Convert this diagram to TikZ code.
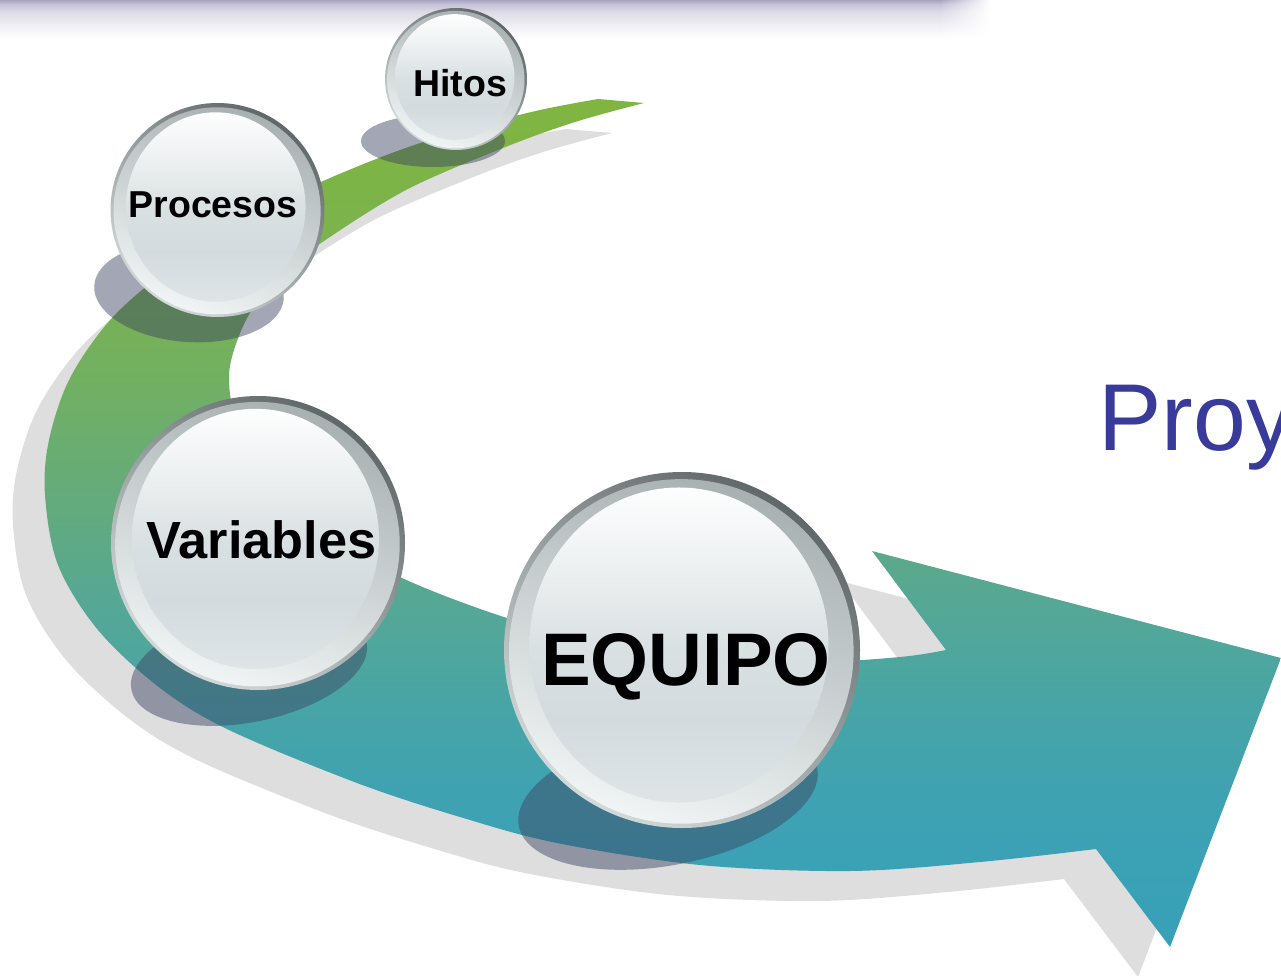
\documentclass[tikz,border=0pt]{standalone}
\usepackage{fontspec}
\setmainfont{Liberation Sans}
\usetikzlibrary{fadings}
\definecolor{ag0}{RGB}{55,160,184}
\definecolor{ag1}{RGB}{62,162,178}
\definecolor{ag2}{RGB}{72,165,165}
\definecolor{ag3}{RGB}{86,168,148}
\definecolor{ag4}{RGB}{100,171,124}
\definecolor{ag5}{RGB}{112,175,102}
\definecolor{ag6}{RGB}{121,178,82}
\definecolor{ag7}{RGB}{128,181,64}
\definecolor{arrowshadowc}{RGB}{222,222,222}
\definecolor{ballshadowc}{RGB}{59,68,98}
\definecolor{rimA}{RGB}{95,103,105}
\definecolor{rimB}{RGB}{210,218,218}
\definecolor{bevA}{RGB}{168,176,178}
\definecolor{bevB}{RGB}{240,244,244}
\definecolor{fcB}{RGB}{223,229,231}
\definecolor{fcM}{RGB}{211,219,222}
\definecolor{fcM2}{RGB}{217,224,226}
\definecolor{fcU}{RGB}{238,241,242}
\definecolor{fcT}{RGB}{253,254,254}
\definecolor{barA}{RGB}{168,164,192}
\definecolor{barB}{RGB}{196,193,214}
\definecolor{barC}{RGB}{220,218,230}
\definecolor{barD}{RGB}{236,235,242}
\definecolor{proyc}{RGB}{56,59,154}
\pgfdeclareverticalshading{arrowgrad}{100bp}{color(0bp)=(ag0); color(25bp)=(ag0); color(33.7bp)=(ag1); color(39.6bp)=(ag2); color(45.5bp)=(ag3); color(51.4bp)=(ag4); color(57.3bp)=(ag5); color(63.2bp)=(ag6); color(75bp)=(ag7); color(100bp)=(ag7)}
\pgfdeclareverticalshading{ballface}{100bp}{color(0bp)=(fcB); color(25bp)=(fcB); color(38bp)=(fcM); color(49bp)=(fcM2); color(63bp)=(fcU); color(75bp)=(fcT); color(100bp)=(fcT)}
\pgfdeclareverticalshading{bargrad}{100bp}{color(0bp)=(white); color(25bp)=(white); color(45bp)=(barD); color(60bp)=(barC); color(70bp)=(barB); color(75bp)=(barA); color(100bp)=(barA)}
\newcommand\arrowpath{plot[smooth, tension=0.55] coordinates {(598,99) (540,110) (470,128) (400,150) (321,182) (240,222) (170,268) (112,318) (70,378) (49,440) (45,495) (58,565) (98,630) (160,688) (229,730) (357,783) (460,817) (557,843) (700,865) (850,871) (980,862) (1096,849)} -- (1170,947) -- (1281,658) -- (872,551) -- (946,650) -- plot[smooth, tension=0.55] coordinates {(946,650) (900,657) (800,663) (700,657) (600,641) (507,618) (400,577) (318,528) (264,470) (236,420) (229,380) (234,350) (250,313) (280,275) (321,243) (406,190) (503,148) (575,122) (644,103)} -- cycle}
\newcommand\glassball[3]{%
  \begin{scope}[shift={(#1,#2)}, scale=#3]
    \shade[shading=axis, top color=rimA, bottom color=rimB, shading angle=-35] (0,0) circle [radius=1];
    \shade[shading=axis, top color=bevA, bottom color=bevB, shading angle=-20] (-0.004,0.008) circle [radius=0.968];
    \shade[shading=ballface] (-0.017,-0.028) ellipse [x radius=0.84, y radius=0.885];
  \end{scope}}
\tikzset{
  ballshadow/.style={fill=ballshadowc, fill opacity=0.47},
  balltext/.style={anchor=base, inner sep=0pt, text=black},
}
\begin{document}
\begin{tikzpicture}[x=1pt, y=-1pt]
\useasboundingbox (0,0) rectangle (1281,976);
\clip (0,0) rectangle (1281,976);
% top bar
\shade[shading=bargrad] (0,0) rectangle (942,38);
\shade[shading=bargrad, path fading=east] (940,0) rectangle (990,38);
% arrow shadow and arrow
\fill[arrowshadowc, shift={(-32,30)}] \arrowpath;
\shade[shading=arrowgrad] \arrowpath;
% sphere shadows
\fill[ballshadow] (433,141) ellipse [x radius=72, y radius=26];
\fill[ballshadow, rotate around={-4:(189,292)}] (189,292) ellipse [x radius=95, y radius=50];
\fill[ballshadow, rotate around={11.5:(249,666)}] (249,666) ellipse [x radius=120, y radius=56];
\fill[ballshadow, rotate around={11:(668,797)}] (668,797) ellipse [x radius=152, y radius=68];
% spheres
\glassball{456}{79}{71}
\glassball{217.5}{210}{107}
\glassball{258}{543}{147}
\glassball{682}{650}{178}
% labels
\node[balltext, font=\bfseries\fontsize{37.5}{40}\selectfont] (hitos) at (460,96.7) {Hitos};
\node[balltext, font=\bfseries\fontsize{37.5}{40}\selectfont] (procesos) at (213,218) {Procesos};
\node[balltext, font=\bfseries\fontsize{52.3}{56}\selectfont] (variables) at (261.5,558) {Variables};
\node[balltext, font=\bfseries\fontsize{74.5}{78}\selectfont] (equipo) at (686,685) {EQUIPO};
% title fragment (cut at the right edge as in the reference)
\node[anchor=base west, inner sep=0pt, text=proyc, font=\fontsize{95}{100}\selectfont] (proy) at (1098,450) {Proy};
\end{tikzpicture}
\end{document}
